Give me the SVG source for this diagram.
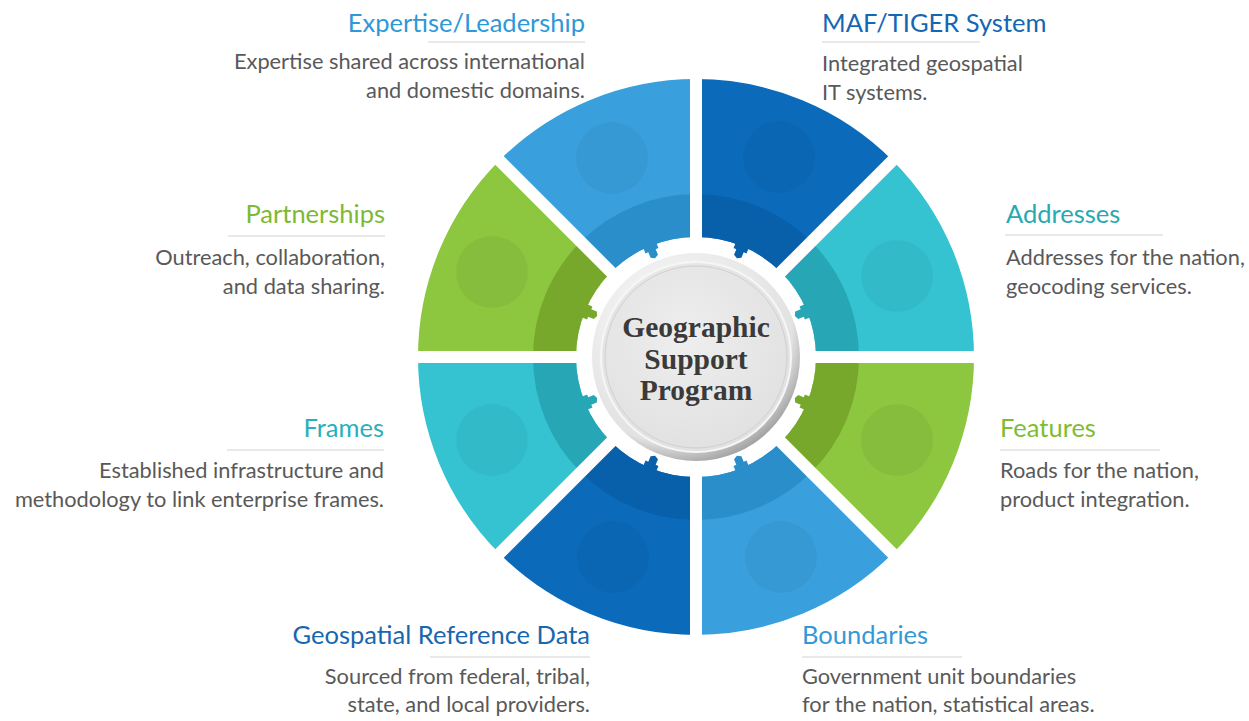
<svg xmlns="http://www.w3.org/2000/svg" width="1249" height="721" viewBox="0 0 1249 721">
<style>
.t{font-family:Lato,"Open Sans","Liberation Sans",sans-serif;font-size:25.5px}
.d{font-family:Lato,"Open Sans","Liberation Sans",sans-serif;font-size:21.8px;fill:#595959}
.ul{stroke:#e2e2e2;stroke-width:1.5}
.lb{fill:#3aa0dd}.lbb{fill:#2a8ecb}
.db{fill:#0b6bba}.dbb{fill:#0860ab}
.te{fill:#35c3d2}.teb{fill:#27a7b5}
.gr{fill:#8dc63f}.grb{fill:#77a82c}
.fc{fill:#000;fill-opacity:0.045}
.sep{stroke:#fff;stroke-width:12}
.ct{font-family:"Liberation Serif","Times New Roman",serif;font-weight:bold;font-size:29.5px;fill:#3a3a3a;text-anchor:middle}
</style>
<defs>
<radialGradient id="rim" cx="0.4" cy="0.35" r="0.75">
<stop offset="0" stop-color="#ffffff"/>
<stop offset="0.75" stop-color="#e2e2e2"/>
<stop offset="1" stop-color="#7a7a7a"/>
</radialGradient>
<radialGradient id="face" cx="0.45" cy="0.4" r="0.7">
<stop offset="0" stop-color="#eeeeee"/>
<stop offset="1" stop-color="#dfdfdf"/>
</radialGradient>
<polygon id="tab" points="122,-7 115,-7 115,-4 109,-4 107,0 109,4 115,4 115,7 122,7"/>
</defs>
<rect width="1249" height="721" fill="#fff"/>

<g id="seg-addresses">
<path class="te" d="M816,357 L974,357 A278,278 0 0 0 892.6,160.4 L780.9,272.1 A120,120 0 0 1 816,357 Z"/>
<path class="teb" d="M816,357 L859,357 A163,163 0 0 0 811.3,241.7 L780.9,272.1 A120,120 0 0 1 816,357 Z"/>
<circle class="fc" cx="897" cy="276" r="36"/>
<use href="#tab" class="teb" transform="translate(696,357) rotate(-22.5)"/>
</g>
<g id="seg-maf">
<path class="db" d="M780.9,272.1 L892.6,160.4 A278,278 0 0 0 696,79 L696,237 A120,120 0 0 1 780.9,272.1 Z"/>
<path class="dbb" d="M780.9,272.1 L811.3,241.7 A163,163 0 0 0 696,194 L696,237 A120,120 0 0 1 780.9,272.1 Z"/>
<circle class="fc" cx="779" cy="157" r="36"/>
<use href="#tab" class="dbb" transform="translate(696,357) rotate(-67.5)"/>
</g>
<g id="seg-expertise">
<path class="lb" d="M696,237 L696,79 A278,278 0 0 0 499.4,160.4 L611.1,272.1 A120,120 0 0 1 696,237 Z"/>
<path class="lbb" d="M696,237 L696,194 A163,163 0 0 0 580.7,241.7 L611.1,272.1 A120,120 0 0 1 696,237 Z"/>
<circle class="fc" cx="612" cy="158" r="36"/>
<use href="#tab" class="lbb" transform="translate(696,357) rotate(-112.5)"/>
</g>
<g id="seg-partnerships">
<path class="gr" d="M611.1,272.1 L499.4,160.4 A278,278 0 0 0 418,357 L576,357 A120,120 0 0 1 611.1,272.1 Z"/>
<path class="grb" d="M611.1,272.1 L580.7,241.7 A163,163 0 0 0 533,357 L576,357 A120,120 0 0 1 611.1,272.1 Z"/>
<circle class="fc" cx="492" cy="272" r="36"/>
<use href="#tab" class="grb" transform="translate(696,357) rotate(-157.5)"/>
</g>
<g id="seg-frames">
<path class="te" d="M576,357 L418,357 A278,278 0 0 0 499.4,553.6 L611.1,441.9 A120,120 0 0 1 576,357 Z"/>
<path class="teb" d="M576,357 L533,357 A163,163 0 0 0 580.7,472.3 L611.1,441.9 A120,120 0 0 1 576,357 Z"/>
<circle class="fc" cx="492" cy="440" r="36"/>
<use href="#tab" class="teb" transform="translate(696,357) rotate(-202.5)"/>
</g>
<g id="seg-geospatial">
<path class="db" d="M611.1,441.9 L499.4,553.6 A278,278 0 0 0 696,635 L696,477 A120,120 0 0 1 611.1,441.9 Z"/>
<path class="dbb" d="M611.1,441.9 L580.7,472.3 A163,163 0 0 0 696,520 L696,477 A120,120 0 0 1 611.1,441.9 Z"/>
<circle class="fc" cx="613" cy="557" r="36"/>
<use href="#tab" class="dbb" transform="translate(696,357) rotate(-247.5)"/>
</g>
<g id="seg-boundaries">
<path class="lb" d="M696,477 L696,635 A278,278 0 0 0 892.6,553.6 L780.9,441.9 A120,120 0 0 1 696,477 Z"/>
<path class="lbb" d="M696,477 L696,520 A163,163 0 0 0 811.3,472.3 L780.9,441.9 A120,120 0 0 1 696,477 Z"/>
<circle class="fc" cx="781" cy="557" r="36"/>
<use href="#tab" class="lbb" transform="translate(696,357) rotate(-292.5)"/>
</g>
<g id="seg-features">
<path class="gr" d="M780.9,441.9 L892.6,553.6 A278,278 0 0 0 974,357 L816,357 A120,120 0 0 1 780.9,441.9 Z"/>
<path class="grb" d="M780.9,441.9 L811.3,472.3 A163,163 0 0 0 859,357 L816,357 A120,120 0 0 1 780.9,441.9 Z"/>
<circle class="fc" cx="897" cy="440" r="36"/>
<use href="#tab" class="grb" transform="translate(696,357) rotate(-337.5)"/>
</g>

<g id="separators">
<line class="sep" x1="696" y1="60" x2="696" y2="654"/>
<line class="sep" x1="400" y1="357" x2="992" y2="357"/>
<line class="sep" x1="486" y1="147" x2="906" y2="567"/>
<line class="sep" x1="906" y1="147" x2="486" y2="567"/>
</g>

<g id="center">
<circle cx="696" cy="357" r="104" fill="url(#rim)"/>
<circle cx="696" cy="357" r="95" fill="url(#face)" stroke="#f6f6f6" stroke-width="2"/>
<circle cx="696" cy="357" r="91" fill="none" stroke="#d0d0d0" stroke-width="1"/>
<text class="ct" x="696" y="337">Geographic</text>
<text class="ct" x="696" y="369">Support</text>
<text class="ct" x="696" y="400">Program</text>
</g>

<g id="lbl-expertise" text-anchor="end">
<text class="t" x="585" y="32" fill="#2f98d6">Expertise/Leadership</text>
<line class="ul" x1="428" y1="42" x2="585" y2="42"/>
<text class="d" x="585" y="69">Expertise shared across international</text>
<text class="d" x="585" y="98">and domestic domains.</text>
</g>
<g id="lbl-maf">
<text class="t" x="822" y="32" fill="#1566b3">MAF/TIGER System</text>
<line class="ul" x1="822" y1="42" x2="980" y2="42"/>
<text class="d" x="822" y="71">Integrated geospatial</text>
<text class="d" x="822" y="100">IT systems.</text>
</g>
<g id="lbl-partnerships" text-anchor="end">
<text class="t" x="385" y="223" fill="#7db932">Partnerships</text>
<line class="ul" x1="228" y1="236" x2="385" y2="236"/>
<text class="d" x="385" y="265">Outreach, collaboration,</text>
<text class="d" x="385" y="294">and data sharing.</text>
</g>
<g id="lbl-addresses">
<text class="t" x="1006" y="223" fill="#26a9b4">Addresses</text>
<line class="ul" x1="1005" y1="235" x2="1163" y2="235"/>
<text class="d" x="1006" y="265">Addresses for the nation,</text>
<text class="d" x="1006" y="294">geocoding services.</text>
</g>
<g id="lbl-frames" text-anchor="end">
<text class="t" x="384" y="437" fill="#2ab0ba">Frames</text>
<line class="ul" x1="227" y1="450" x2="384" y2="450"/>
<text class="d" x="384" y="478">Established infrastructure and</text>
<text class="d" x="384" y="507">methodology to link enterprise frames.</text>
</g>
<g id="lbl-features">
<text class="t" x="1000" y="437" fill="#80bc33">Features</text>
<line class="ul" x1="1000" y1="450" x2="1160" y2="450"/>
<text class="d" x="1000" y="478">Roads for the nation,</text>
<text class="d" x="1000" y="507">product integration.</text>
</g>
<g id="lbl-geospatial" text-anchor="end">
<text class="t" x="590" y="644" fill="#1767ae">Geospatial Reference Data</text>
<line class="ul" x1="430" y1="657" x2="590" y2="657"/>
<text class="d" x="590" y="684">Sourced from federal, tribal,</text>
<text class="d" x="590" y="712">state, and local providers.</text>
</g>
<g id="lbl-boundaries">
<text class="t" x="802" y="644" fill="#3399d6">Boundaries</text>
<line class="ul" x1="802" y1="657" x2="962" y2="657"/>
<text class="d" x="802" y="684">Government unit boundaries</text>
<text class="d" x="802" y="712">for the nation, statistical areas.</text>
</g>
</svg>
